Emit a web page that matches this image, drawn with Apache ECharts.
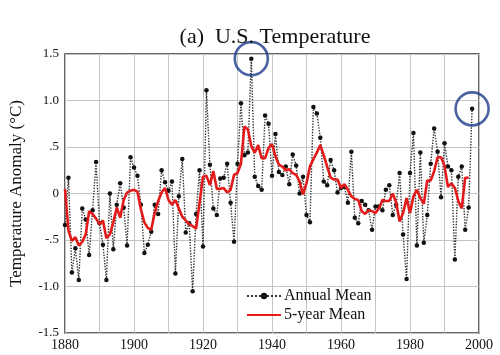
<!DOCTYPE html>
<html>
<head>
<meta charset="utf-8">
<script src="https://cdn.jsdelivr.net/npm/echarts@6/dist/echarts.min.js"></script>
<style>
html,body{margin:0;padding:0;background:#fff;}
#chart{width:500px;height:355px;}
</style>
</head>
<body>
<div id="chart"></div>
<script>
// ---- data ----
const firstYear = 1880;
const annualMean = [
  -0.34, 0.17, -0.85, -0.59, -0.93, -0.16, -0.28, -0.66, -0.18, 0.34,
  -0.32, -0.55, -0.93, 0.00, -0.60, -0.12, 0.11, -0.15, -0.56, 0.39,
  0.28, 0.19, -0.12, -0.64, -0.55, -0.41, -0.12, -0.22, 0.25, 0.12,
  0.03, 0.13, -0.86, -0.03, 0.37, -0.42, -0.32, -1.05, -0.22, 0.25,
  -0.57, 1.11, 0.31, -0.16, -0.23, 0.16, 0.17, 0.32, -0.10, -0.52,
  0.32, 0.97, 0.41, 0.44, 1.45, 0.18, 0.08, 0.04, 0.84, 0.75,
  0.19, 0.64, 0.23, 0.20, 0.29, 0.10, 0.42, 0.30, 0.00, 0.18,
  -0.23, -0.31, 0.93, 0.86, 0.60, 0.13, 0.09, 0.36, 0.25, 0.01,
  0.06, 0.07, -0.10, 0.45, -0.26, -0.32, -0.08, -0.12, -0.18, -0.39,
  -0.14, -0.14, -0.18, 0.04, 0.09, -0.23, -0.12, 0.22, -0.44, -0.92,
  0.22, 0.65, -0.56, 0.44, -0.53, -0.23, 0.32, 0.70, 0.45, -0.04,
  0.54, 0.29, 0.25, -0.71, 0.18, 0.29, -0.39, -0.15, 0.91
];
const fiveYearMean = [
  0.05, -0.40, -0.51, -0.47, -0.56, -0.52, -0.44, -0.19, -0.22, -0.27,
  -0.33, -0.29, -0.48, -0.44, -0.31, -0.15, -0.26, -0.07, 0.01, 0.03,
  0.04, 0.02, -0.17, -0.31, -0.37, -0.39, -0.21, -0.08, 0.01, 0.06,
  -0.07, -0.12, -0.07, -0.16, -0.25, -0.29, -0.33, -0.35, -0.38, -0.10,
  0.18, 0.19, 0.09, 0.24, 0.05, 0.05, 0.06, 0.01, 0.04, 0.20,
  0.22, 0.32, 0.72, 0.69, 0.51, 0.44, 0.52, 0.38, 0.38, 0.49,
  0.53, 0.40, 0.31, 0.29, 0.25, 0.26, 0.22, 0.20, 0.13, -0.01,
  0.11, 0.29, 0.37, 0.44, 0.52, 0.41, 0.29, 0.17, 0.15, 0.15,
  0.06, 0.10, 0.04, -0.03, -0.06, -0.07, -0.19, -0.22, -0.18, -0.19,
  -0.21, -0.16, -0.07, -0.08, -0.08, 0.00, -0.10, -0.30, -0.21, -0.05,
  -0.21, -0.03, 0.04, -0.05, -0.11, 0.14, 0.14, 0.24, 0.39, 0.39,
  0.30, 0.07, 0.11, 0.06, -0.08, -0.16, 0.17, 0.17
];
const circledPoints = [[1934, 1.45], [1998, 0.91]];
const yTickLabels = {'1.5':'1.5','1':'1.0','0.5':'.5','0':'0','-0.5':'-.5','-1':'-1.0','-1.5':'-1.5'};
const xTickLabels = ['1880','1900','1920','1940','1960','1980','2000'];
const seriesNames = ['Annual Mean', '5-year Mean'];
const titleText = '(a)  U.S. Temperature';
const yAxisName = 'Temperature Anomaly (°C)';

const serif = 'Liberation Serif, Times New Roman, serif';
const annualData = annualMean.map((v, i) => [firstYear + i, v]);
const meanData = fiveYearMean.map((v, i) => [firstYear + i, v]);

const chart = echarts.init(document.getElementById('chart'), null, {renderer: 'canvas'});
chart.setOption({
  backgroundColor: '#ffffff',
  animation: false,
  title: {
    text: titleText,
    left: 270, top: 21, textAlign: 'center',
    textStyle: {fontFamily: serif, fontSize: 22, fontWeight: 'normal', color: '#111'}
  },
  grid: {left: 65, right: 21, top: 54, bottom: 22, show: true, borderColor: '#333', borderWidth: 1.5, backgroundColor: 'transparent'},
  legend: {
    data: [
      {name: seriesNames[0]},
      {name: seriesNames[1], itemStyle: {opacity: 0}}
    ],
    orient: 'vertical',
    left: 246, top: 288,
    itemWidth: 34, itemHeight: 8, itemGap: 3,
    textStyle: {fontFamily: serif, fontSize: 16, color: '#111', padding: [0, 0, 0, -2]},
    padding: 0
  },
  xAxis: {
    type: 'value', min: 1880, max: 2000, interval: 10,
    axisLine: {show: false},
    axisTick: {show: false},
    splitLine: {show: true, lineStyle: {color: '#c4c4c4', width: 1}},
    axisLabel: {
      fontFamily: serif, fontSize: 14, color: '#111', margin: 5,
      formatter: v => (xTickLabels.indexOf(String(v)) >= 0 ? String(v) : '')
    }
  },
  yAxis: {
    type: 'value', min: -1.5, max: 1.5, interval: 0.5,
    name: yAxisName, nameLocation: 'middle', nameGap: 40, nameRotate: 90,
    nameTextStyle: {fontFamily: serif, fontSize: 17, color: '#111'},
    axisLine: {show: false},
    axisTick: {show: false},
    splitLine: {show: true, lineStyle: {color: '#c4c4c4', width: 1}},
    axisLabel: {
      fontFamily: serif, fontSize: 13, color: '#111', margin: 6,
      formatter: v => yTickLabels[String(v)] !== undefined ? yTickLabels[String(v)] : ''
    }
  },
  series: [
    {
      name: seriesNames[0], type: 'line', data: annualData,
      symbol: 'circle', symbolSize: 4.5, showSymbol: true,
      lineStyle: {color: '#333', width: 1.4, type: 'dotted'},
      itemStyle: {color: '#111'},
      z: 3
    },
    {
      name: seriesNames[1], type: 'line', data: meanData,
      symbol: 'none',
      lineStyle: {color: '#e21a1a', width: 2.6},
      itemStyle: {color: '#e21a1a'},
      z: 4
    },
    {
      name: 'circled', type: 'scatter', data: circledPoints,
      symbol: 'circle', symbolSize: 33,
      itemStyle: {color: 'rgba(0,0,0,0)', borderColor: '#1d3b8a', borderWidth: 2.6},
      silent: true, z: 5
    }
  ]
});
</script>
</body>
</html>
